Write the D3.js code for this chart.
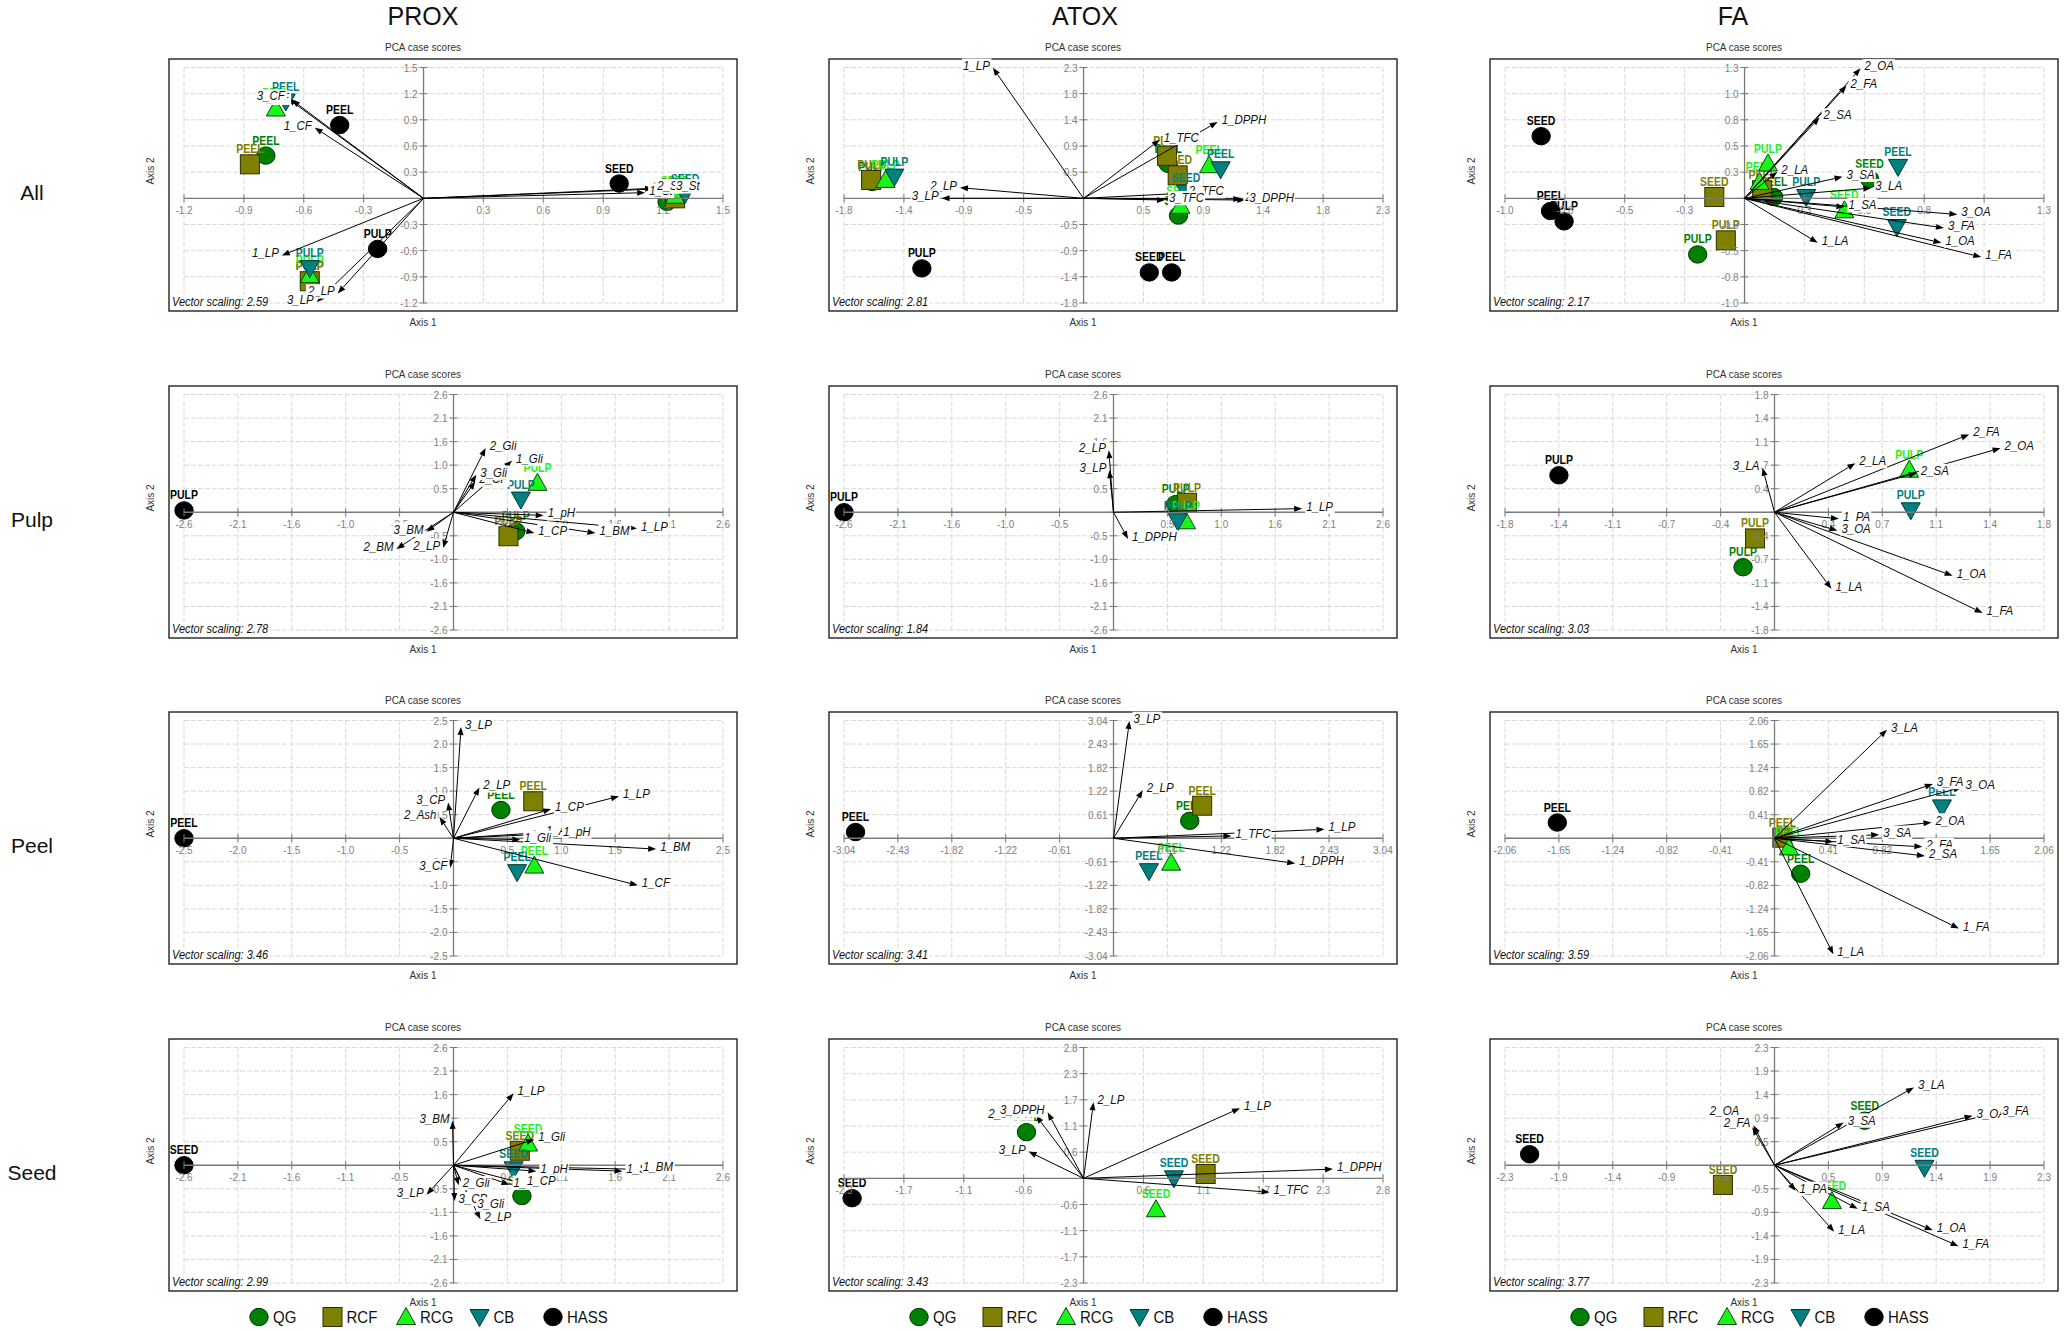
<!DOCTYPE html>
<html>
<head>
<meta charset="utf-8">
<script src="https://cdn.jsdelivr.net/npm/d3@7"></script>
<style>
  body { margin: 0; background: #fff; }
  text { font-family: "Liberation Sans", Arial, sans-serif; }
</style>
</head>
<body>
<svg id="fig" width="2069" height="1331"></svg>
<script>
// ---------------- data ----------------
const columnTitles = ["PROX", "ATOX", "FA"];
const rowTitles = ["All", "Pulp", "Peel", "Seed"];
const groupKeys = ["QG", "RCF", "RCG", "CB", "HASS"];
const legendProx = ["QG", "RCF", "RCG", "CB", "HASS"];
const legendAtox = ["QG", "RFC", "RCG", "CB", "HASS"];
const legendFa = ["QG", "RFC", "RCG", "CB", "HASS"];
const vectorScaling = ["2.59", "2.81", "2.17", "2.78", "1.84", "3.03", "3.46", "3.41", "3.59", "2.99", "3.43", "3.77"];

// tick labels (same on both axes of a plot)
const ticksProxAll = ["-1.2", "-0.9", "-0.6", "-0.3", "0", "0.3", "0.6", "0.9", "1.2", "1.5"];
const ticksAtoxAll = ["-1.8", "-1.4", "-0.9", "-0.5", "0", "0.5", "0.9", "1.4", "1.8", "2.3"];
const ticksFaAll = ["-1.0", "-0.8", "-0.5", "-0.3", "0", "0.3", "0.5", "0.8", "1.0", "1.3"];
const ticksProxPulp = ["-2.6", "-2.1", "-1.6", "-1.0", "-0.5", "0", "0.5", "1.0", "1.6", "2.1", "2.6"];
const ticksAtoxPulp = ["-2.6", "-2.1", "-1.6", "-1.0", "-0.5", "0", "0.5", "1.0", "1.6", "2.1", "2.6"];
const ticksFaPulp = ["-1.8", "-1.4", "-1.1", "-0.7", "-0.4", "0", "0.4", "0.7", "1.1", "1.4", "1.8"];
const ticksProxPeel = ["-2.5", "-2.0", "-1.5", "-1.0", "-0.5", "0", "0.5", "1.0", "1.5", "2.0", "2.5"];
const ticksAtoxPeel = ["-3.04", "-2.43", "-1.82", "-1.22", "-0.61", "0", "0.61", "1.22", "1.82", "2.43", "3.04"];
const ticksFaPeel = ["-2.06", "-1.65", "-1.24", "-0.82", "-0.41", "0", "0.41", "0.82", "1.24", "1.65", "2.06"];
const ticksProxSeed = ["-2.6", "-2.1", "-1.6", "-1.1", "-0.5", "0", "0.5", "1.1", "1.6", "2.1", "2.6"];
const ticksAtoxSeed = ["-2.3", "-1.7", "-1.1", "-0.6", "0", "0.6", "1.1", "1.7", "2.3", "2.8"];
const ticksFaSeed = ["-2.3", "-1.9", "-1.4", "-0.9", "-0.5", "0", "0.5", "0.9", "1.4", "1.9", "2.3"];

// case scores: [group, tissue, axis 1, axis 2]
const casesProxAll = [
  ["QG", "PEEL", -0.79, 0.49], ["QG", "PULP", -0.57, -0.95], ["QG", "SEED", 1.22, -0.04],
  ["RCF", "PEEL", -0.87, 0.39], ["RCF", "PULP", -0.57, -0.95], ["RCF", "SEED", 1.26, 0.0],
  ["RCG", "PEEL", -0.74, 1.03], ["RCG", "PULP", -0.57, -0.88], ["RCG", "SEED", 1.26, 0.03],
  ["CB", "PEEL", -0.69, 1.11], ["CB", "PULP", -0.57, -0.80], ["CB", "SEED", 1.31, 0.05],
  ["HASS", "PEEL", -0.42, 0.84], ["HASS", "PULP", -0.23, -0.58], ["HASS", "SEED", 0.98, 0.17]
];
const casesAtoxAll = [
  ["QG", "PEEL", 0.644, 0.60], ["QG", "PULP", -1.607, 0.285], ["QG", "SEED", 0.722, -0.30],
  ["RCF", "PEEL", 0.635, 0.74], ["RCF", "PULP", -1.616, 0.32], ["RCF", "SEED", 0.716, 0.40],
  ["RCG", "PEEL", 0.955, 0.576], ["RCG", "PULP", -1.506, 0.32], ["RCG", "SEED", 0.737, -0.13],
  ["CB", "PEEL", 1.043, 0.506], ["CB", "PULP", -1.439, 0.378], ["CB", "SEED", 0.78, 0.10],
  ["HASS", "PEEL", 0.67, -1.29], ["HASS", "PULP", -1.23, -1.22], ["HASS", "SEED", 0.50, -1.29]
];
const casesFaAll = [
  ["QG", "PEEL", 0.124, 0.013], ["QG", "PULP", -0.20, -0.548], ["QG", "SEED", 0.533, 0.19],
  ["RCF", "PEEL", 0.075, 0.08], ["RCF", "PULP", -0.08, -0.41], ["RCF", "SEED", -0.129, 0.013],
  ["RCG", "PEEL", 0.064, 0.16], ["RCG", "PULP", 0.10, 0.34], ["RCG", "SEED", 0.426, -0.117],
  ["CB", "PEEL", 0.655, 0.307], ["CB", "PULP", 0.263, 0.013], ["CB", "SEED", 0.65, -0.28],
  ["HASS", "PEEL", -0.828, -0.124], ["HASS", "PULP", -0.77, -0.225], ["HASS", "SEED", -0.868, 0.607]
];
const casesProxPulp = [
  ["QG", "PULP", 0.60, -0.42], ["RCF", "PULP", 0.53, -0.53], ["RCG", "PULP", 0.81, 0.65],
  ["CB", "PULP", 0.65, 0.28], ["HASS", "PULP", -2.6, 0.04]
];
const casesAtoxPulp = [
  ["QG", "PULP", 0.60, 0.18], ["RCF", "PULP", 0.71, 0.21], ["RCG", "PULP", 0.70, -0.20],
  ["CB", "PULP", 0.62, -0.20], ["HASS", "PULP", -2.6, 0.0]
];
const casesFaPulp = [
  ["QG", "PULP", -0.21, -0.84], ["RCF", "PULP", -0.13, -0.40], ["RCG", "PULP", 0.90, 0.65],
  ["CB", "PULP", 0.91, 0.03], ["HASS", "PULP", -1.44, 0.565]
];
const casesProxPeel = [
  ["QG", "PEEL", 0.44, 0.60], ["RCF", "PEEL", 0.74, 0.785], ["RCG", "PEEL", 0.75, -0.58],
  ["CB", "PEEL", 0.59, -0.72], ["HASS", "PEEL", -2.5, 0.0]
];
const casesAtoxPeel = [
  ["QG", "PEEL", 0.86, 0.45], ["RCF", "PEEL", 1.00, 0.84], ["RCG", "PEEL", 0.65, -0.63],
  ["CB", "PEEL", 0.40, -0.85], ["HASS", "PEEL", -2.91, 0.16]
];
const casesFaPeel = [
  ["QG", "PEEL", 0.20, -0.62], ["RCF", "PEEL", 0.06, 0.01], ["RCG", "PEEL", 0.11, -0.16],
  ["CB", "PEEL", 1.28, 0.54], ["HASS", "PEEL", -1.66, 0.275]
];
const casesProxSeed = [
  ["QG", "SEED", 0.66, -0.68], ["RCF", "SEED", 0.64, 0.32], ["RCG", "SEED", 0.72, 0.48],
  ["CB", "SEED", 0.58, -0.09], ["HASS", "SEED", -2.6, 0.0]
];
const casesAtoxSeed = [
  ["QG", "SEED", -0.54, 1.0], ["RCF", "SEED", 1.155, 0.094], ["RCG", "SEED", 0.685, -0.67],
  ["CB", "SEED", 0.855, 0.0], ["HASS", "SEED", -2.19, -0.43]
];
const casesFaSeed = [
  ["QG", "SEED", 0.77, 0.87], ["RCF", "SEED", -0.44, -0.385], ["RCG", "SEED", 0.49, -0.70],
  ["CB", "SEED", 1.28, -0.05], ["HASS", "SEED", -2.09, 0.215]
];

// variable vectors: [name, axis 1, axis 2]
const vecProxAll = [
  ["2_CF", -0.66, 1.13], ["3_CF", -0.68, 1.145], ["1_CF", -0.545, 0.81],
  ["1_LP", -0.71, -0.655], ["2_LP", -0.43, -1.09], ["3_LP", -0.535, -1.19],
  ["1_St", 1.11, 0.065], ["2_St", 1.15, 0.115], ["3_St", 1.245, 0.115]
];
const vecAtoxAll = [
  ["1_LP", -0.69, 2.275], ["2_LP", -0.94, 0.186], ["3_LP", -1.08, 0.0],
  ["1_DPPH", 1.02, 1.33], ["1_TFC", 0.58, 1.02], ["2_TFC", 0.77, 0.09],
  ["3_TFC", 0.62, -0.03], ["2_DPPH", 1.20, -0.01], ["3_DPPH", 1.23, -0.03]
];
const vecFaAll = [
  ["2_OA", 0.495, 1.27], ["2_FA", 0.435, 1.10], ["2_SA", 0.32, 0.79], ["2_LA", 0.14, 0.26],
  ["3_SA", 0.418, 0.21], ["3_LA", 0.541, 0.10], ["1_SA", 0.426, -0.085], ["3_OA", 0.908, -0.157],
  ["3_FA", 0.851, -0.29], ["1_OA", 0.84, -0.434], ["1_FA", 1.01, -0.574], ["1_LA", 0.312, -0.434]
];
const vecProxPulp = [
  ["2_Gli", 0.31, 1.42], ["1_Gli", 0.565, 1.14], ["2_CP", 0.21, 0.68], ["3_Gli", 0.22, 0.83],
  ["1_pH", 0.87, -0.07], ["1_CP", 0.78, -0.46], ["1_BM", 1.37, -0.46], ["1_LP", 1.77, -0.36],
  ["3_BM", -0.26, -0.43], ["2_BM", -0.55, -0.81], ["2_LP", -0.10, -0.79]
];
const vecAtoxPulp = [
  ["2_LP", -0.045, 1.37], ["3_LP", -0.04, 0.93], ["1_LP", 1.82, 0.08], ["1_DPPH", 0.14, -0.59]
];
const vecFaPulp = [
  ["2_FA", 1.30, 1.19], ["2_OA", 1.51, 0.98], ["2_LA", 0.54, 0.75], ["2_SA", 0.95, 0.60],
  ["3_LA", -0.08, 0.68], ["1_PA", 0.43, -0.10], ["3_OA", 0.42, -0.28], ["1_OA", 1.19, -0.97],
  ["1_FA", 1.39, -1.54], ["1_LA", 0.38, -1.17]
];
const vecProxPeel = [
  ["3_LP", 0.07, 2.36], ["2_LP", 0.24, 1.08], ["2_Ash", -0.13, 0.45], ["3_CP", -0.05, 0.76],
  ["1_LP", 1.535, 0.89], ["1_CP", 0.905, 0.62], ["1_Ash", 0.82, 0.12], ["1_pH", 0.98, 0.10],
  ["1_Gli", 0.62, -0.03], ["1_BM", 1.88, -0.23], ["1_CF", 1.71, -1.0], ["3_CF", -0.03, -0.63]
];
const vecAtoxPeel = [
  ["3_LP", 0.18, 3.03], ["2_LP", 0.33, 1.24], ["1_TFC", 1.33, 0.06], ["1_LP", 2.38, 0.23],
  ["1_DPPH", 2.05, -0.65]
];
const vecFaPeel = [
  ["3_LA", 0.86, 1.90], ["3_FA", 1.21, 0.95], ["3_OA", 1.43, 0.89], ["2_OA", 1.20, 0.275],
  ["3_SA", 0.80, 0.06], ["1_SA", 0.45, -0.06], ["2_FA", 1.13, -0.15], ["2_SA", 1.15, -0.31],
  ["1_FA", 1.41, -1.58], ["1_LA", 0.45, -2.03]
];
const vecProxSeed = [
  ["1_LP", 0.58, 1.59], ["3_BM", -0.01, 0.98], ["1_Gli", 0.78, 0.57], ["1_pH", 0.80, -0.13],
  ["1_St", 1.63, -0.13], ["1_BM", 1.79, -0.09], ["1_Ash", 0.54, -0.43], ["1_CP", 0.67, -0.40],
  ["2_Gli", 0.05, -0.44], ["3_CP", 0.01, -0.79], ["3_Gli", 0.19, -0.91], ["2_LP", 0.26, -1.19],
  ["3_LP", -0.26, -0.65]
];
const vecAtoxSeed = [
  ["2_LP", 0.094, 1.65], ["1_LP", 1.48, 1.52], ["1_DPPH", 2.36, 0.20], ["1_TFC", 1.76, -0.30],
  ["3_LP", -0.52, 0.58], ["2_DPPH", -0.45, 1.36], ["3_DPPH", -0.34, 1.43]
];
const vecFaSeed = [
  ["3_LA", 1.19, 1.52], ["3_SA", 0.59, 0.835], ["3_OA", 1.69, 0.965], ["3_FA", 1.91, 1.03],
  ["2_OA", -0.19, 0.74], ["2_FA", -0.18, 0.78], ["1_PA", 0.18, -0.50], ["1_SA", 0.71, -0.85],
  ["1_OA", 1.35, -1.27], ["1_FA", 1.57, -1.58], ["1_LA", 0.51, -1.30]
];

// ---------------- layout & style ----------------
const colX = [169, 829, 1490];
const rowY = [59, 386, 712, 1039];
const boxW = 568, boxH = 252;
const SY = 1.15;                 // glyphs are drawn slightly taller than wide
// label offsets (pixels) for vector names that would otherwise sit on top of each other
const labelNudge = { "11:2_OA": [-10, -14] };

const groupStyle = {
  QG:   { shape: "circle", fill: "#008000", stroke: "#003300", text: "#008000" },
  RCF:  { shape: "square", fill: "#808000", stroke: "#2e2e00", text: "#808000" },
  RCG:  { shape: "up",     fill: "#19f519", stroke: "#0a4a0a", text: "#1ef01e" },
  CB:   { shape: "down",   fill: "#008080", stroke: "#003838", text: "#008080" },
  HASS: { shape: "circle", fill: "#000000", stroke: "#000000", text: "#000000" }
};

const panels = [
  [ticksProxAll, casesProxAll, vecProxAll], [ticksAtoxAll, casesAtoxAll, vecAtoxAll], [ticksFaAll, casesFaAll, vecFaAll],
  [ticksProxPulp, casesProxPulp, vecProxPulp], [ticksAtoxPulp, casesAtoxPulp, vecAtoxPulp], [ticksFaPulp, casesFaPulp, vecFaPulp],
  [ticksProxPeel, casesProxPeel, vecProxPeel], [ticksAtoxPeel, casesAtoxPeel, vecAtoxPeel], [ticksFaPeel, casesFaPeel, vecFaPeel],
  [ticksProxSeed, casesProxSeed, vecProxSeed], [ticksAtoxSeed, casesAtoxSeed, vecAtoxSeed], [ticksFaSeed, casesFaSeed, vecFaSeed]
].map((p, i) => ({ idx: i, row: Math.floor(i / 3), col: i % 3, ticks: p[0], cases: p[1], vectors: p[2], scaling: vectorScaling[i] }));

const svg = d3.select("#fig");

// text placed at (x, y) and stretched vertically
function addText(parent, x, y, str, attrs, rot) {
  const t = parent.append("text")
    .attr("transform", `translate(${x},${y})${rot ? ` rotate(${rot})` : ""} scale(1,${SY})`)
    .text(str);
  Object.entries(attrs).forEach(([k, v]) => t.attr(k, v));
  return t;
}

// text with a white box behind it
function textWithBg(parent, x, y, str, attrs) {
  const lg = parent.append("g").attr("transform", `translate(${x},${y}) scale(1,${SY})`);
  const t = lg.append("text").attr("x", 0).attr("y", 0).text(str);
  Object.entries(attrs).forEach(([k, v]) => t.attr(k, v));
  const b = t.node().getBBox();
  lg.insert("rect", "text").attr("x", b.x - 1).attr("y", b.y + 0.5)
    .attr("width", b.width + 2).attr("height", b.height - 0.5).attr("fill", "#fff");
  return lg;
}

function drawMarker(g, shape, cx, cy, st) {
  let m;
  if (shape === "circle") {
    m = g.append("ellipse").attr("cx", cx).attr("cy", cy).attr("rx", 9.2).attr("ry", 8.7);
  } else if (shape === "square") {
    m = g.append("rect").attr("x", cx - 9.5).attr("y", cy - 9.5).attr("width", 19).attr("height", 19);
  } else if (shape === "up") {
    m = g.append("path").attr("d", `M${cx},${cy - 9.5}L${cx + 9.5},${cy + 7.5}L${cx - 9.5},${cy + 7.5}Z`);
  } else {
    m = g.append("path").attr("d", `M${cx - 9.5},${cy - 7.5}L${cx + 9.5},${cy - 7.5}L${cx},${cy + 9.5}Z`);
  }
  m.attr("fill", st.fill).attr("stroke", st.stroke).attr("stroke-width", 1);
}

function drawPanel(p) {
  const x0 = colX[p.col], y0 = rowY[p.row];
  const vals = p.ticks.map(Number);
  const n = vals.length;
  const zi = vals.indexOf(0);
  const step = (vals[n - 1] - vals[0]) / (n - 1);
  const dom = [-zi * step, (n - 1 - zi) * step];
  const x = d3.scaleLinear().domain(dom).range([x0 + 15, x0 + boxW - 14]);
  const y = d3.scaleLinear().domain(dom).range([y0 + boxH - 8, y0 + 8.5]);
  const tickPos = d3.range(n).map(i => (i - zi) * step);

  const g = svg.append("g");

  // titles
  const small = { "font-size": 10, "fill": "#333", "text-anchor": "middle" };
  addText(g, x0 + 254, y0 - 8, "PCA case scores", small);
  addText(g, x0 + 254, y0 + boxH + 15, "Axis 1", small);
  addText(g, x0 - 15, y0 + 112, "Axis 2", small, -90);

  // frame
  g.append("rect").attr("x", x0).attr("y", y0).attr("width", boxW).attr("height", boxH)
    .attr("fill", "#fff").attr("stroke", "#222").attr("stroke-width", 1.4);

  // grid
  const grid = g.append("g").attr("stroke", "#d9d9d9").attr("stroke-width", 1).attr("stroke-dasharray", "5,2");
  tickPos.forEach(v => {
    grid.append("line").attr("x1", x(v)).attr("x2", x(v)).attr("y1", y(dom[0])).attr("y2", y(dom[1]));
    grid.append("line").attr("y1", y(v)).attr("y2", y(v)).attr("x1", x(dom[0])).attr("x2", x(dom[1]));
  });

  // case markers with their labels, group by group
  groupKeys.forEach(k => {
    const st = groupStyle[k];
    p.cases.filter(c => c[0] === k).forEach(c => {
      const cx = x(c[2]), cy = y(c[3]);
      drawMarker(g, st.shape, cx, cy, st);
      addText(g, cx, cy - 11, c[1], { "font-size": 10.5, "font-weight": "bold", "fill": st.text, "text-anchor": "middle" });
    });
  });

  // axes through the origin
  const ax = g.append("g");
  ax.append("line").attr("x1", x(dom[0])).attr("x2", x(dom[1])).attr("y1", y(0)).attr("y2", y(0))
    .attr("stroke", "#7a7a7a").attr("stroke-width", 1.3);
  ax.append("line").attr("y1", y(dom[0])).attr("y2", y(dom[1])).attr("x1", x(0)).attr("x2", x(0))
    .attr("stroke", "#7a7a7a").attr("stroke-width", 1.3);
  const tickText = { "font-size": 10, "fill": "#808080" };
  tickPos.forEach((v, i) => {
    ax.append("line").attr("x1", x(v)).attr("x2", x(v)).attr("y1", y(0) - 4).attr("y2", y(0) + 4)
      .attr("stroke", "#7a7a7a").attr("stroke-width", 1);
    ax.append("line").attr("y1", y(v)).attr("y2", y(v)).attr("x1", x(0) - 4).attr("x2", x(0) + 4)
      .attr("stroke", "#7a7a7a").attr("stroke-width", 1);
    if (i === zi) return;
    addText(ax, x(v), y(0) + 16, p.ticks[i], Object.assign({ "text-anchor": "middle" }, tickText));
    addText(ax, x(0) - 6, y(v) + 4, p.ticks[i], Object.assign({ "text-anchor": "end" }, tickText));
  });

  // variable vectors
  const ox = x(0), oy = y(0);
  const vg = g.append("g");
  p.vectors.forEach(v => {
    const px = x(v[1]), py = y(v[2]);
    const ang = Math.atan2(py - oy, px - ox);
    const L = 8, hw = 3;
    const bx = px - L * Math.cos(ang), by = py - L * Math.sin(ang);
    vg.append("line").attr("x1", ox).attr("y1", oy).attr("x2", bx).attr("y2", by)
      .attr("stroke", "#000").attr("stroke-width", 1);
    vg.append("path")
      .attr("d", `M${px},${py}L${bx + hw * Math.sin(ang)},${by - hw * Math.cos(ang)}L${bx - hw * Math.sin(ang)},${by + hw * Math.cos(ang)}Z`)
      .attr("fill", "#000");
  });
  p.vectors.forEach(v => {
    const px = x(v[1]), py = y(v[2]);
    const right = px >= ox;
    const nd = labelNudge[p.idx + ":" + v[0]] || [0, 0];
    textWithBg(g, (right ? px + 4 : px - 3) + nd[0], py + 2 + nd[1], v[0],
      { "font-size": 11.5, "font-style": "italic", "fill": "#111", "text-anchor": right ? "start" : "end" });
  });

  // vector scaling note
  textWithBg(g, x0 + 3, y0 + boxH - 5, "Vector scaling: " + p.scaling,
    { "font-size": 11, "font-style": "italic", "fill": "#111", "text-anchor": "start" });
}

panels.forEach(drawPanel);

// column and row headings
columnTitles.forEach((t, i) => {
  svg.append("text").attr("x", [423, 1085, 1733][i]).attr("y", 25).attr("text-anchor", "middle")
    .attr("font-family", "Lato, 'Open Sans', sans-serif").attr("font-size", 25).attr("fill", "#111").text(t);
});
rowTitles.forEach((t, i) => {
  svg.append("text").attr("x", 32).attr("y", rowY[i] + 141).attr("text-anchor", "middle")
    .attr("font-family", "Lato, 'Open Sans', sans-serif").attr("font-size", 21).attr("fill", "#111").text(t);
});

// legends under the bottom row
[legendProx, legendAtox, legendFa].forEach((names, ci) => {
  const lg = svg.append("g");
  const ly = 1317;
  names.forEach((name, i) => {
    const st = groupStyle[groupKeys[i]];
    const mx = colX[ci] + 90 + i * 73.5;
    drawMarker(lg, st.shape, mx, ly, st);
    addText(lg, mx + 14, ly + 6, name, { "font-size": 15, "fill": "#111" });
  });
});
</script>
</body>
</html>
